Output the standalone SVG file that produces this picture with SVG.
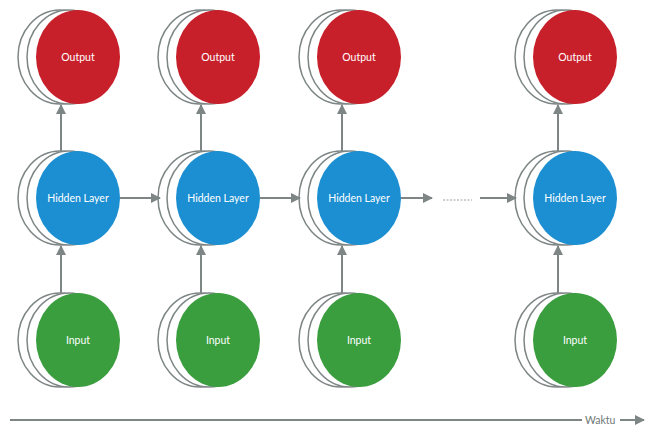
<svg xmlns="http://www.w3.org/2000/svg" width="649" height="428" viewBox="0 0 649 428">
<style>
.back{fill:#ffffff;stroke:#7d8585;stroke-width:1.5}
.out{fill:#c8202b}
.hid{fill:#1b8fd2}
.inp{fill:#3a9d3e}
.lbl{font-family:Lato,"Open Sans",sans-serif;font-size:10.5px;fill:#ffffff;text-anchor:middle;dominant-baseline:central}
.conn{stroke:#7d8585;stroke-width:2;fill:none}
.time{font-family:Lato,"Open Sans",sans-serif;font-size:10.5px;fill:#6f7777;dominant-baseline:central}
</style>
<defs>
<marker id="ah" viewBox="0 0 10 10" refX="9" refY="5" markerWidth="5" markerHeight="5" orient="auto" markerUnits="strokeWidth">
<path d="M0,0 L10,5 L0,10 z" fill="#7d8585"/>
</marker>
<g id="stackOut">
<ellipse class="back" cx="-18" cy="0" rx="42" ry="47"/>
<ellipse class="back" cx="-9" cy="0" rx="42" ry="47"/>
</g>
</defs>
<rect width="649" height="428" fill="#ffffff"/>

<g id="n-out1"><use href="#stackOut" x="78" y="57"/><ellipse class="out" cx="78" cy="57" rx="42" ry="47"/><text class="lbl" x="78" y="57">Output</text></g>
<g id="n-out2"><use href="#stackOut" x="218" y="57"/><ellipse class="out" cx="218" cy="57" rx="42" ry="47"/><text class="lbl" x="218" y="57">Output</text></g>
<g id="n-out3"><use href="#stackOut" x="359" y="57"/><ellipse class="out" cx="359" cy="57" rx="42" ry="47"/><text class="lbl" x="359" y="57">Output</text></g>
<g id="n-out4"><use href="#stackOut" x="575" y="57"/><ellipse class="out" cx="575" cy="57" rx="42" ry="47"/><text class="lbl" x="575" y="57">Output</text></g>

<g id="n-hid1"><use href="#stackOut" x="78" y="198"/><ellipse class="hid" cx="78" cy="198" rx="42" ry="47"/><text class="lbl" x="78" y="198">Hidden Layer</text></g>
<g id="n-hid2"><use href="#stackOut" x="218" y="198"/><ellipse class="hid" cx="218" cy="198" rx="42" ry="47"/><text class="lbl" x="218" y="198">Hidden Layer</text></g>
<g id="n-hid3"><use href="#stackOut" x="359" y="198"/><ellipse class="hid" cx="359" cy="198" rx="42" ry="47"/><text class="lbl" x="359" y="198">Hidden Layer</text></g>
<g id="n-hid4"><use href="#stackOut" x="575" y="198"/><ellipse class="hid" cx="575" cy="198" rx="42" ry="47"/><text class="lbl" x="575" y="198">Hidden Layer</text></g>

<g id="n-in1"><use href="#stackOut" x="78" y="340"/><ellipse class="inp" cx="78" cy="340" rx="42" ry="47"/><text class="lbl" x="78" y="340">Input</text></g>
<g id="n-in2"><use href="#stackOut" x="218" y="340"/><ellipse class="inp" cx="218" cy="340" rx="42" ry="47"/><text class="lbl" x="218" y="340">Input</text></g>
<g id="n-in3"><use href="#stackOut" x="359" y="340"/><ellipse class="inp" cx="359" cy="340" rx="42" ry="47"/><text class="lbl" x="359" y="340">Input</text></g>
<g id="n-in4"><use href="#stackOut" x="575" y="340"/><ellipse class="inp" cx="575" cy="340" rx="42" ry="47"/><text class="lbl" x="575" y="340">Input</text></g>

<g id="connectors">
<line class="conn" x1="61" y1="293" x2="61" y2="246" marker-end="url(#ah)"/>
<line class="conn" x1="201" y1="293" x2="201" y2="246" marker-end="url(#ah)"/>
<line class="conn" x1="342" y1="293" x2="342" y2="246" marker-end="url(#ah)"/>
<line class="conn" x1="558" y1="293" x2="558" y2="246" marker-end="url(#ah)"/>
<line class="conn" x1="61" y1="151" x2="61" y2="105" marker-end="url(#ah)"/>
<line class="conn" x1="201" y1="151" x2="201" y2="105" marker-end="url(#ah)"/>
<line class="conn" x1="342" y1="151" x2="342" y2="105" marker-end="url(#ah)"/>
<line class="conn" x1="558" y1="151" x2="558" y2="105" marker-end="url(#ah)"/>
<line class="conn" x1="120" y1="198" x2="160" y2="198" marker-end="url(#ah)"/>
<line class="conn" x1="260" y1="198" x2="300" y2="198" marker-end="url(#ah)"/>
<line class="conn" x1="401" y1="198" x2="432" y2="198" marker-end="url(#ah)"/>
<line x1="443" y1="200" x2="472" y2="200" stroke="#9aa0a0" stroke-width="1" stroke-dasharray="2 1.5"/>
<line class="conn" x1="480" y1="198" x2="516" y2="198" marker-end="url(#ah)"/>
<line class="conn" x1="10" y1="420" x2="582" y2="420"/>
<line class="conn" x1="620" y1="420" x2="644" y2="420" marker-end="url(#ah)"/>
</g>
<text class="time" x="585" y="420">Waktu</text>
</svg>
